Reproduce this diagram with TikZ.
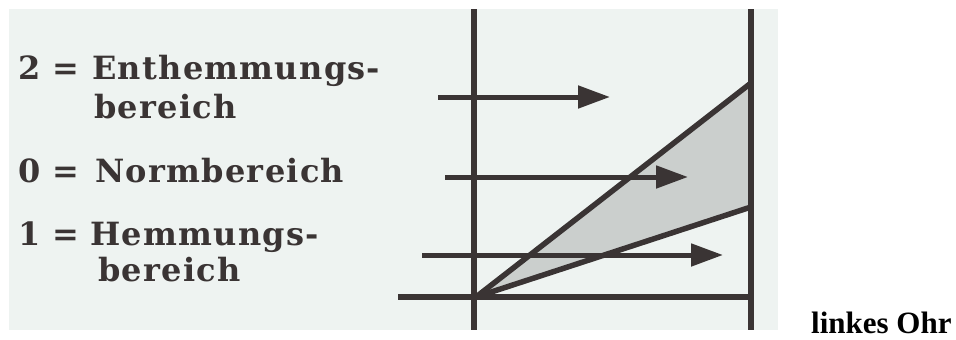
\documentclass[tikz,border=0pt]{standalone}
\usepackage{fontspec}
\setmainfont{Liberation Serif}
\newfontfamily\clar[LetterSpace=4]{DejaVu Serif}
\usetikzlibrary{arrows.meta}
\definecolor{scan}{HTML}{EEF3F1}
\definecolor{ink}{HTML}{3A3434}
\definecolor{wedgegray}{HTML}{CBCFCD}
\tikzset{
  axis/.style={draw=ink, line width=5.5pt},
  flow/.style={draw=ink, line width=5pt, -{Triangle[length=32pt,width=22pt]}},
  lbl/.style={font=\clar\bfseries\fontsize{32}{34}\selectfont, text=ink, inner sep=0pt, anchor=base west},
}
\begin{document}
\begin{tikzpicture}[x=1pt,y=-1pt]
\useasboundingbox (0,0) rectangle (956,340);
\fill[white] (0,0) rectangle (956,340);
\fill[scan] (9,9) rectangle (778,330);
% frame coordinates
\coordinate (LT) at (474,9);
\coordinate (LB) at (474,330);
\coordinate (RT) at (751,9);
\coordinate (RB) at (751,330);
\coordinate (O) at (476,297);
\coordinate (HL) at (398,297);
\coordinate (HR) at (751,297);
\coordinate (U) at (751,83);
\coordinate (D) at (751,207);
\coordinate (A1s) at (438,97);  \coordinate (A1e) at (610,97);
\coordinate (A2s) at (445,177); \coordinate (A2e) at (688,177);
\coordinate (A3s) at (422,255); \coordinate (A3e) at (723,255);
% shaded wedge
\fill[wedgegray] (O) -- (U) -- (D) -- cycle;
% axes
\draw[axis] (LT) -- (LB);
\draw[axis] (RT) -- (RB);
\draw[axis] (HL) -- (HR);
\draw[axis] (O) -- (U);
\draw[axis] (O) -- (D);
% arrows
\draw[flow] (A1s) -- (A1e);
\draw[flow] (A2s) -- (A2e);
\draw[flow] (A3s) -- (A3e);
% labels
\node[lbl] (n2) at (18,79) {2 =};
\node[lbl] (t2) at (92,79) {Enthemmungs-};
\node[lbl] (t2b) at (94,118) {bereich};
\node[lbl] (n0) at (18,182) {0 =};
\node[lbl] (t0) at (95,182) {Normbereich};
\node[lbl] (n1) at (18,245) {1 =};
\node[lbl] (t1) at (90,245) {Hemmungs-};
\node[lbl] (t1b) at (98,281) {bereich};
\node[font=\bfseries\fontsize{31}{33}\selectfont, anchor=base west, inner sep=0pt] (ear) at (811,333) {linkes Ohr};
\end{tikzpicture}
\end{document}
